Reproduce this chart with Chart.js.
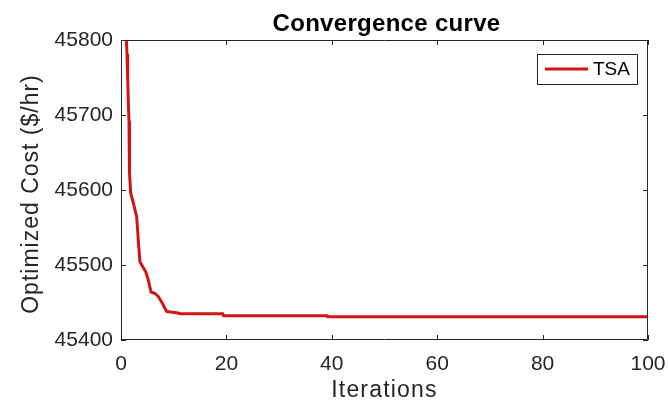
<!DOCTYPE html>
<html>
<head>
<meta charset="utf-8">
<script src="https://cdn.jsdelivr.net/npm/chart.js@4.4.1/dist/chart.umd.min.js"></script>
<style>
  html, body { margin: 0; padding: 0; background: #fff; }
  #wrap { width: 668px; height: 402px; }
</style>
</head>
<body>
<div id="wrap"><canvas id="convChart" width="668" height="402"></canvas></div>
<script>
// values
const iterations = [1, 1.14, 1.27, 1.39, 1.52, 1.57, 1.65, 1.84, 2.33, 2.98, 3.28, 3.6, 4.69, 5.18, 5.69, 6.45, 7.08, 7.84, 8.67, 10.87, 11.2, 19.35, 19.4, 39.1, 39.2, 100];
const costTSA = [45805, 45780, 45749, 45718, 45691, 45660, 45623, 45596, 45583, 45564, 45533, 45504, 45491, 45480, 45464, 45462, 45458, 45449, 45438, 45436, 45435, 45435, 45432.5, 45432.5, 45431, 45431];
const xTicks = [0, 20, 40, 60, 80, 100];
const yTicks = [45400, 45500, 45600, 45700, 45800];

const chartTitle = 'Convergence curve';
const xTitle = 'Iterations';
const yTitle = 'Optimized Cost ($/hr)';

const axisColor = '#262626';
const lineRed = '#d01515';
const fontFam = '"Liberation Sans", Arial, Helvetica, sans-serif';

// matlab style box, inward ticks, titles and legend
const matlabBox = {
  id: 'matlabBox',
  afterDatasetsDraw(chart) {
    const { ctx, chartArea: a, scales } = chart;
    const len = 5;
    ctx.save();
    ctx.strokeStyle = axisColor;
    ctx.lineWidth = 1;
    ctx.beginPath();
    ctx.rect(a.left + 0.5, a.top + 0.5, a.right - a.left - 1, a.bottom - a.top - 1);
    xTicks.forEach(v => {
      const px = Math.round(scales.x.getPixelForValue(v)) + 0.5;
      ctx.moveTo(px, a.bottom); ctx.lineTo(px, a.bottom - len);
      ctx.moveTo(px, a.top); ctx.lineTo(px, a.top + len);
    });
    yTicks.forEach(v => {
      const py = Math.round(scales.y.getPixelForValue(v)) + 0.5;
      ctx.moveTo(a.left, py); ctx.lineTo(a.left + len, py);
      ctx.moveTo(a.right, py); ctx.lineTo(a.right - len, py);
    });
    ctx.stroke();

    const cx = (a.left + a.right) / 2;
    const cy = (a.top + a.bottom) / 2;

    // chart title
    ctx.fillStyle = '#000';
    ctx.font = 'bold 24px ' + fontFam;
    ctx.letterSpacing = '0.3px';
    ctx.textAlign = 'center';
    ctx.textBaseline = 'alphabetic';
    ctx.fillText(chartTitle, cx + 2, 31);

    // axis titles
    ctx.fillStyle = axisColor;
    ctx.font = '23px ' + fontFam;
    ctx.letterSpacing = '1.2px';
    ctx.fillText(xTitle, cx, 397);
    ctx.save();
    ctx.translate(38, cy + 4);
    ctx.rotate(-Math.PI / 2);
    ctx.letterSpacing = '1px';
    ctx.fillText(yTitle, 0, 0);
    ctx.restore();
    ctx.letterSpacing = '0px';

    // legend
    const ds = chart.data.datasets[0];
    const bx = 537, by = 54, bw = 100, bh = 30;
    ctx.fillStyle = '#fff';
    ctx.fillRect(bx, by, bw, bh);
    ctx.strokeStyle = axisColor;
    ctx.lineWidth = 1;
    ctx.strokeRect(bx + 0.5, by + 0.5, bw, bh);
    ctx.strokeStyle = ds.borderColor;
    ctx.lineWidth = ds.borderWidth;
    ctx.beginPath();
    ctx.moveTo(bx + 8, by + 15); ctx.lineTo(bx + 51, by + 15);
    ctx.stroke();
    ctx.fillStyle = '#000';
    ctx.font = '19px ' + fontFam;
    ctx.textBaseline = 'middle';
    ctx.textAlign = 'left';
    ctx.fillText(ds.label, bx + 56, by + 16);
    ctx.restore();
  }
};

const points = iterations.map((it, i) => ({ x: it, y: costTSA[i] }));

new Chart(document.getElementById('convChart'), {
  type: 'line',
  data: {
    datasets: [{
      label: 'TSA',
      data: points,
      borderColor: lineRed,
      backgroundColor: lineRed,
      borderWidth: 3,
      borderJoinStyle: 'round',
      borderCapStyle: 'round',
      pointRadius: 0,
      tension: 0,
      fill: false
    }]
  },
  options: {
    responsive: false,
    animation: false,
    layout: { padding: { left: 0, right: 20, top: 40, bottom: 0 } },
    plugins: {
      legend: { display: false },
      tooltip: { enabled: false },
      title: { display: false }
    },
    scales: {
      x: {
        type: 'linear',
        min: 0,
        max: 100,
        afterFit: s => { s.height = 62; s.paddingLeft = 0; s.paddingRight = 0; },
        afterBuildTicks: s => { s.ticks = xTicks.map(v => ({ value: v })); },
        grid: { display: false, drawTicks: false },
        border: { display: false },
        ticks: {
          color: axisColor,
          padding: 12,
          maxRotation: 0,
          font: { family: fontFam, size: 21 }
        }
      },
      y: {
        type: 'linear',
        min: 45400,
        max: 45800,
        afterFit: s => { s.width = 121; },
        afterBuildTicks: s => { s.ticks = yTicks.map(v => ({ value: v })); },
        grid: { display: false, drawTicks: false },
        border: { display: false },
        ticks: {
          color: axisColor,
          padding: 8,
          font: { family: fontFam, size: 21 },
          callback: v => String(v)
        }
      }
    }
  },
  plugins: [matlabBox]
});
</script>
</body>
</html>
